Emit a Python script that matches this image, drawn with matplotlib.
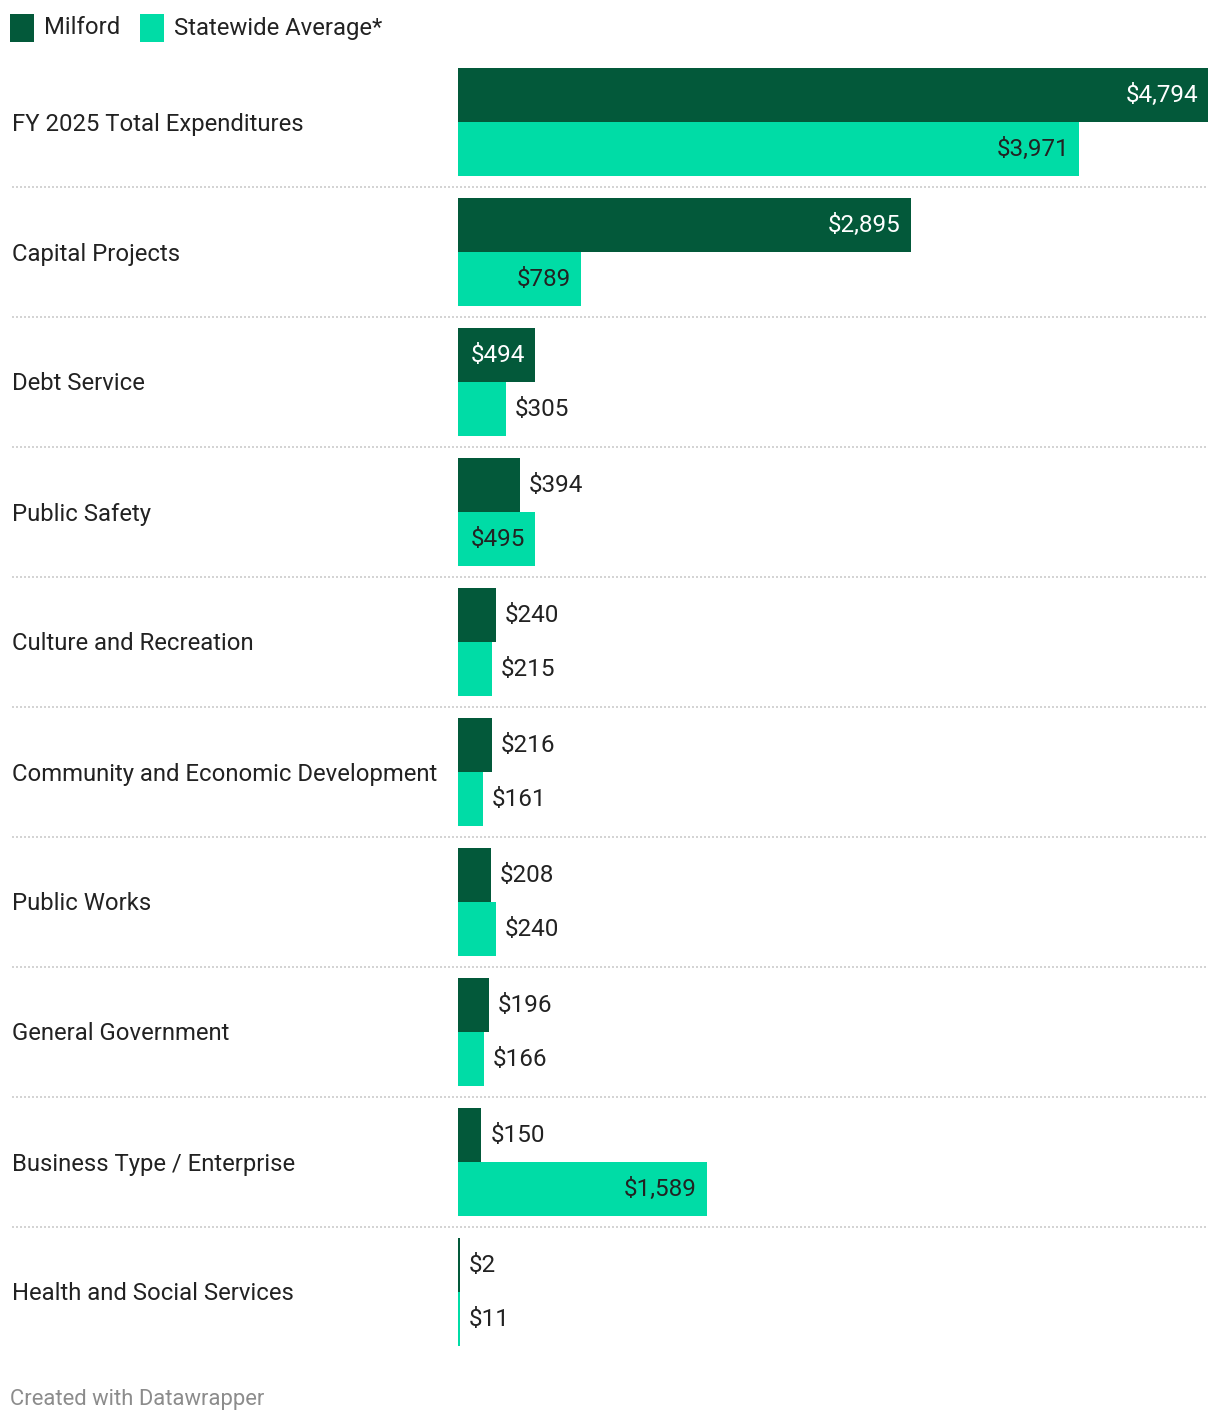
import matplotlib.pyplot as plt
from matplotlib.patches import Rectangle

plt.rcParams['font.family'] = ['Roboto', 'DejaVu Sans']

categories = [
    "FY 2025 Total Expenditures",
    "Capital Projects",
    "Debt Service",
    "Public Safety",
    "Culture and Recreation",
    "Community and Economic Development",
    "Public Works",
    "General Government",
    "Business Type / Enterprise",
    "Health and Social Services",
]
milford = [4794, 2895, 494, 394, 240, 216, 208, 196, 150, 2]
statewide = [3971, 789, 305, 495, 215, 161, 240, 166, 1589, 11]
series_names = ["Milford", "Statewide Average*"]

DARK = "#03593a"
LIGHT = "#00dca6"
TEXT = "#222222"

W, H = 1220, 1424
fig = plt.figure(figsize=(W / 100, H / 100), dpi=100)

# axes in pixel coords: bars from x=458 to 1208, groups from y=68 to 1346
x0, x1 = 458, 1208
y0, y1 = 68, 1346
ax = fig.add_axes([x0 / W, 1 - y1 / H, (x1 - x0) / W, (y1 - y0) / H])
pitch = 130
bh = 54
n = len(categories)
ax.set_xlim(0, max(milford))
ax.set_ylim((n - 1) * pitch + bh, -bh)
ax.axis("off")

px = max(milford) / (x1 - x0)  # data units per pixel
fs = 17.2
fs_val = 17.5
half_cap = 8.5  # baseline offset under center, px
val_off = 6.5

for i, (cat, m, s) in enumerate(zip(categories, milford, statewide)):
    yc = i * pitch
    for val, yy, col, in_col in [(m, yc - bh / 2, DARK, "white"), (s, yc + bh / 2, LIGHT, TEXT)]:
        w = max(val, 1.6 * px)
        ax.barh(yy, w, height=bh, color=col, linewidth=0)
        lab = f"${val:,}"
        if val / px > 70:
            ax.text(val - 10 * px, yy + val_off, lab, ha="right", va="baseline",
                    fontsize=fs_val, color=in_col)
        else:
            ax.text(w + 9 * px, yy + val_off, lab, ha="left", va="baseline",
                    fontsize=fs_val, color=TEXT)
    # category label
    fig.text(12 / W, 1 - (y0 + bh + half_cap + i * pitch) / H, cat, ha="left", va="baseline",
             fontsize=fs, color=TEXT)
    # separator
    if i < n - 1:
        ysep = y0 + 2 * bh + i * pitch + 11
        fig.add_artist(plt.Line2D([12 / W, 1208 / W], [1 - ysep / H, 1 - ysep / H],
                                  color="#cccccc", linewidth=1.2, linestyle=(0, (1.2, 1.2))))

# legend
for xl, col, name in [(10, DARK, series_names[0]), (140, LIGHT, series_names[1])]:
    fig.add_artist(Rectangle((xl / W, 1 - 42 / H), 24 / W, 28 / H, color=col, linewidth=0,
                             transform=fig.transFigure))
    fig.text((xl + 34) / W, 1 - 34.5 / H, name, ha="left", va="baseline", fontsize=fs, color=TEXT)

fig.text(10 / W, 1 - 1405 / H, "Created with Datawrapper", ha="left", va="baseline",
         fontsize=15.8, color="#8c8c8c")

fig.savefig("out.png", dpi=100, facecolor="white")
